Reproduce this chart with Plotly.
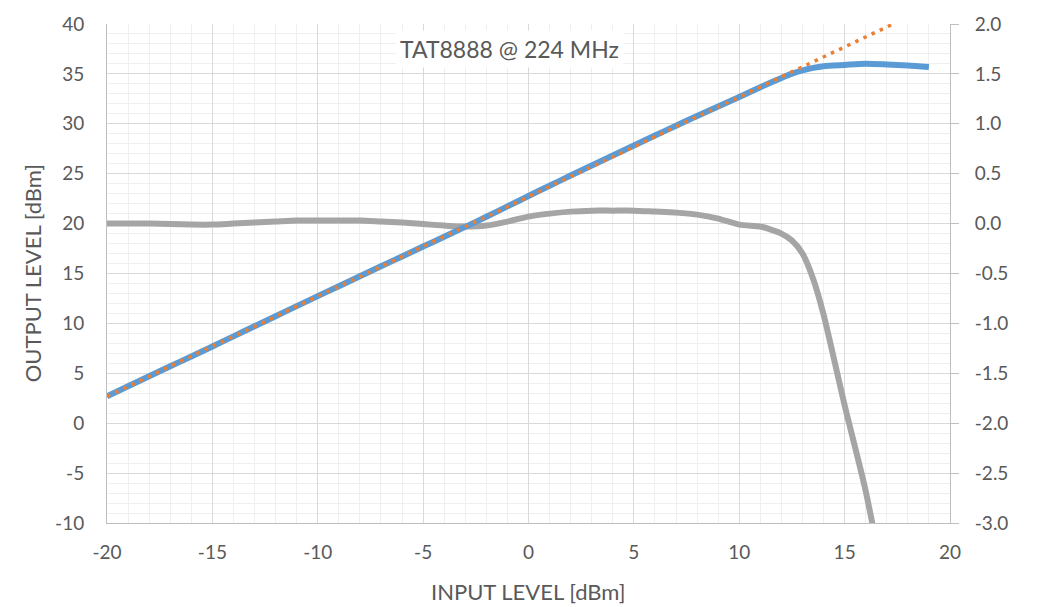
import plotly.graph_objects as go

# Input level (dBm)
input_dbm = [-20, -19, -18, -17, -16, -15, -14, -13, -12, -11, -10, -9, -8, -7, -6, -5, -4, -3, -2, -1,
             0, 1, 2, 3, 4, 5, 6, 7, 8, 9, 10, 11, 11.5, 12, 12.5, 13, 13.5, 14, 15, 16, 17, 18, 19]
# Measured output level (dBm)
output_dbm = [2.70, 3.70, 4.70, 5.70, 6.69, 7.69, 8.70, 9.71, 10.72, 11.73, 12.73, 13.73, 14.73, 15.72,
              16.71, 17.70, 18.68, 19.67, 20.68, 21.72, 22.77, 23.80, 24.82, 25.83, 26.83, 27.83, 28.82,
              29.81, 30.79, 31.74, 32.69, 33.67, 34.14, 34.60, 35.03, 35.36, 35.60, 35.77, 35.90, 36.02,
              35.95, 35.85, 35.70]
# Gain deviation (dB) - right axis
gain_dev = [0.00, 0.00, 0.00, -0.005, -0.01, -0.01, 0.00, 0.01, 0.02, 0.03, 0.03, 0.03, 0.03, 0.02,
            0.01, -0.005, -0.02, -0.03, -0.02, 0.02, 0.07, 0.10, 0.12, 0.13, 0.13, 0.13, 0.12, 0.11,
            0.09, 0.05, -0.01, -0.03, -0.06, -0.10, -0.17, -0.30, -0.55, -0.91, -1.82, -2.68, -3.75,
            -4.85, -6.0]
# Linear (ideal) response endpoints
linear_in = [-20, 19]
linear_out = [2.7, 41.7]

# Tick labels
x_ticks = [-20, -15, -10, -5, 0, 5, 10, 15, 20]
x_ticklabels = ["-20", "-15", "-10", "-5", "0", "5", "10", "15", "20"]
yl_ticks = [-10, -5, 0, 5, 10, 15, 20, 25, 30, 35, 40]
yl_ticklabels = ["-10", "-5", "0", "5", "10", "15", "20", "25", "30", "35", "40"]
yr_ticks = [-3.0, -2.5, -2.0, -1.5, -1.0, -0.5, 0.0, 0.5, 1.0, 1.5, 2.0]
yr_ticklabels = ["-3.0", "-2.5", "-2.0", "-1.5", "-1.0", "-0.5", "0.0", "0.5", "1.0", "1.5", "2.0"]

title_text = "TAT8888 @ 224 MHz"
x_title = "INPUT LEVEL [dBm]"
y_title = "OUTPUT LEVEL [dBm]"

FONT = "Lato"
TXT = "#595959"

fig = go.Figure()
fig.add_trace(go.Scatter(x=input_dbm, y=gain_dev, mode="lines", yaxis="y",
                         line=dict(color="#A5A5A5", width=6, shape="spline", smoothing=0.7),
                         showlegend=False, hoverinfo="skip"))
fig.add_trace(go.Scatter(x=input_dbm, y=output_dbm, mode="lines", yaxis="y2",
                         line=dict(color="#5B9BD5", width=6, shape="spline", smoothing=0.7),
                         showlegend=False, hoverinfo="skip"))
fig.add_trace(go.Scatter(x=linear_in, y=linear_out, mode="lines", yaxis="y2",
                         line=dict(color="#ED7D31", width=3.5, dash="3.5px,5.5px"),
                         showlegend=False, hoverinfo="skip"))

fig.update_layout(
    width=1041, height=607,
    margin=dict(l=107, r=91, t=22, b=84),
    paper_bgcolor="white", plot_bgcolor="white",
    font=dict(family=FONT, size=19, color=TXT),
    xaxis=dict(range=[-20, 20], tickmode="array", tickvals=x_ticks, ticktext=x_ticklabels,
               showgrid=True, gridcolor="#D9D9D9", gridwidth=1,
               minor=dict(dtick=1, tick0=-20, showgrid=True, gridcolor="#EFEFEF", gridwidth=1),
               showline=True, linecolor="#BFBFBF", linewidth=1, zeroline=False,
               ticks="", ticklabelstandoff=12, tickfont=dict(family=FONT, size=19, color=TXT)),
    yaxis=dict(range=[-3, 2], tickmode="array", tickvals=yr_ticks, ticktext=yr_ticklabels,
               side="right", showgrid=True, gridcolor="#D9D9D9", gridwidth=1,
               minor=dict(dtick=0.1, tick0=-3, showgrid=True, gridcolor="#EFEFEF", gridwidth=1),
               showline=True, linecolor="#BFBFBF", linewidth=1, zeroline=False,
               ticks="outside", ticklen=8, tickcolor="#BFBFBF",
               ticklabelstandoff=12, tickfont=dict(family=FONT, size=19, color=TXT)),
    yaxis2=dict(range=[-10, 40], tickmode="array", tickvals=yl_ticks, ticktext=yl_ticklabels,
                side="left", overlaying="y",
                showgrid=False, zeroline=False, showline=True, linecolor="#BFBFBF", linewidth=1,
                ticks="", ticklabelstandoff=18, tickfont=dict(family=FONT, size=19, color=TXT)),
    annotations=[
        dict(text=title_text, xref="paper", yref="paper", x=0.478, y=0.95, showarrow=False,
             font=dict(family=FONT, size=23, color=TXT), bgcolor="white", borderpad=4,
             xanchor="center", yanchor="middle"),
        dict(text=x_title, xref="paper", yref="paper", x=0.499, y=-0.138, showarrow=False,
             font=dict(family=FONT, size=22, color=TXT), xanchor="center", yanchor="middle"),
        dict(text=y_title, xref="paper", yref="paper", x=-0.088, y=0.5, showarrow=False,
             textangle=-90, font=dict(family=FONT, size=22, color=TXT),
             xanchor="center", yanchor="middle"),
    ],
)

fig.write_html("out.html")
